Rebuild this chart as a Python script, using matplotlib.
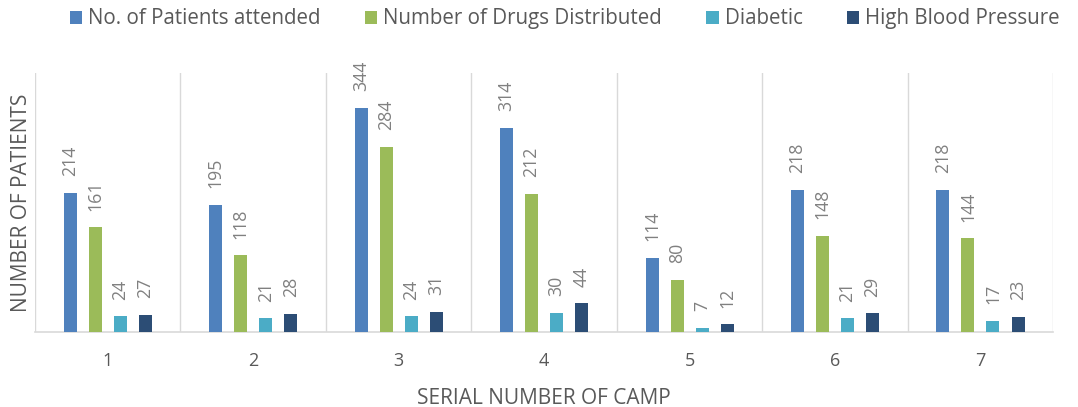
import matplotlib
matplotlib.use("Agg")
import matplotlib.pyplot as plt
import numpy as np

camps = ["1", "2", "3", "4", "5", "6", "7"]
patients = [214, 195, 344, 314, 114, 218, 218]
drugs = [161, 118, 284, 212, 80, 148, 144]
diabetic = [24, 21, 24, 30, 7, 21, 17]
bp = [27, 28, 31, 44, 12, 29, 23]

series = [
    ("No. of Patients attended", patients, "#4F81BD"),
    ("Number of Drugs Distributed", drugs, "#9BBB59"),
    ("Diabetic", diabetic, "#4BACC6"),
    ("High Blood Pressure", bp, "#2C4D75"),
]

plt.rcParams['font.family'] = ['Open Sans', 'DejaVu Sans']
fig = plt.figure(figsize=(10.78, 4.07), dpi=100)
ax = fig.add_axes([0.0325, 0.184, 0.9445, 0.637])

x = np.arange(1, len(camps) + 1)
width = 0.0894
offsets = [-0.258, -0.086, 0.086, 0.258]
handles = []
for (name, vals, col), off in zip(series, offsets):
    b = ax.bar(x + off, vals, width, color=col, label=name, zorder=3)
    handles.append(b)
    for xi, v in zip(x + off, vals):
        ax.annotate(str(v), (xi, v), xytext=(0, 12), textcoords="offset points",
                    rotation=90, ha="center", va="bottom", fontsize=12.8,
                    color="#808080")

ax.set_xlim(0.5, len(camps) + 0.5)
ax.set_ylim(0, 398)
ax.set_xticks(x)
ax.set_xticklabels(camps, fontsize=13, color="#595959")
ax.set_xticks(np.arange(0.5, len(camps) + 1, 1), minor=True)
ax.tick_params(axis="x", which="both", length=0, pad=14)
ax.set_yticks([])
ax.grid(axis="x", which="minor", color="#D9D9D9", linewidth=1, zorder=0)
for s in ["top", "right", "left"]:
    ax.spines[s].set_visible(False)
ax.spines["bottom"].set_color("#D9D9D9")
ax.spines["bottom"].set_linewidth(1.2)

ax.set_xlabel("SERIAL NUMBER OF CAMP", fontsize=15, color="#595959", labelpad=13)
ax.set_ylabel("NUMBER OF PATIENTS", fontsize=15, color="#595959", labelpad=2)

fig.legend(handles=handles, loc="upper center", bbox_to_anchor=(0.524, 1.025), ncol=4,
           frameon=False, fontsize=14.8, handlelength=0.6, handleheight=0.6,
           handletextpad=0.3, columnspacing=2.15, labelcolor="#595959")

fig.savefig("out.png", dpi=100)
